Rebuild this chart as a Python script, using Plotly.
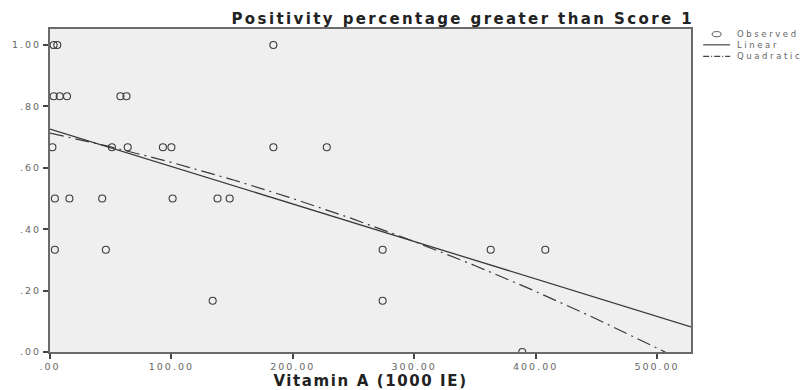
import numpy as np
import plotly.graph_objects as go

# Observed values: Vitamin A dose (1000 IE) vs positivity proportion
vitamin_a = [3, 6, 184,
             3, 8, 14, 58, 63,
             2, 51, 64, 93, 100, 184, 228,
             4, 16, 43, 101, 138, 148,
             4, 46, 274, 363, 408,
             134, 274,
             389]
positivity = [1.0, 1.0, 1.0,
              0.833, 0.833, 0.833, 0.833, 0.833,
              0.667, 0.667, 0.667, 0.667, 0.667, 0.667, 0.667,
              0.5, 0.5, 0.5, 0.5, 0.5, 0.5,
              0.333, 0.333, 0.333, 0.333, 0.333,
              0.167, 0.167,
              0.0]

# Curve-fit coefficients (constant, b1, b2)
linear_coef = [0.726, -0.00122]
quadratic_coef = [0.713, -0.000842, -1.117e-6]

x_ticks = [0, 100, 200, 300, 400, 500]
x_tick_text = [".00", "100.00", "200.00", "300.00", "400.00", "500.00"]
y_ticks = [0, 0.2, 0.4, 0.6, 0.8, 1.0]
y_tick_text = [".00", ".20", ".40", ".60", ".80", "1.00"]

x_max = 528
y_max = 1.052

xs = np.linspace(0, x_max, 200)
lin = linear_coef[0] + linear_coef[1] * xs
quad = quadratic_coef[0] + quadratic_coef[1] * xs + quadratic_coef[2] * xs ** 2


def spaced(text, px, bold=False):
    """Wrap text in a span with extra letter spacing (wide SPSS-style lettering)."""
    inner = f"<b>{text}</b>" if bold else text
    return f'<span style="letter-spacing:{px}px">{inner}</span>'


ink = "#3a3a3a"
fig = go.Figure()
fig.add_trace(go.Scatter(
    x=vitamin_a, y=positivity, mode="markers", name="Observed",
    marker=dict(symbol="circle-open", size=7, color=ink, line=dict(width=1.1)),
    showlegend=False))
fig.add_trace(go.Scatter(
    x=xs, y=lin, mode="lines", name="Linear",
    line=dict(color=ink, width=1.3), showlegend=False))
fig.add_trace(go.Scatter(
    x=xs, y=quad, mode="lines", name="Quadratic",
    line=dict(color=ink, width=1.2, dash="14px,5px,2px,5px"), showlegend=False))

font_name = "DejaVu Sans, Liberation Sans, Arial"
tick_font = dict(family=font_name, size=9.5, color="#666")
fig.update_xaxes(range=[0, x_max], tickvals=x_ticks,
                 ticktext=[spaced(t, 2) for t in x_tick_text],
                 showgrid=False, zeroline=False, showline=True, mirror=True,
                 linecolor="#6a6a6a", linewidth=2, ticks="outside", ticklen=5,
                 tickcolor="#444", tickwidth=1.5, tickfont=tick_font, automargin=False,
                 title=dict(text=spaced("Vitamin A (1000 IE)", 1.6, bold=True), standoff=8,
                            font=dict(family=font_name, size=15, color="#222")))
fig.update_yaxes(range=[0, y_max], tickvals=y_ticks,
                 ticktext=[spaced(t, 2) for t in y_tick_text],
                 showgrid=False, zeroline=False, showline=True, mirror=True,
                 linecolor="#6a6a6a", linewidth=2, ticks="outside", ticklen=5,
                 tickcolor="#444", tickwidth=1.5, tickfont=tick_font, automargin=False)

# Legend drawn beside the plot area
legend_font = dict(family=font_name, size=8.5, color="#666")
leg_x0, leg_x1, leg_tx = 1.019, 1.061, 1.068
rows = [("Observed", 0.983), ("Linear", 0.951), ("Quadratic", 0.915)]
for label, yy in rows:
    fig.add_annotation(xref="paper", yref="paper", x=leg_tx, y=yy, text=spaced(label, 2.6),
                       showarrow=False, xanchor="left", yanchor="middle", font=legend_font)
fig.add_shape(type="circle", xref="paper", yref="paper",
              x0=1.033, x1=1.047, y0=0.976, y1=0.992,
              line=dict(color="#555", width=1))
fig.add_shape(type="line", xref="paper", yref="paper", x0=leg_x0, x1=leg_x1,
              y0=rows[1][1], y1=rows[1][1], line=dict(color="#444", width=1.2))
fig.add_shape(type="line", xref="paper", yref="paper", x0=leg_x0, x1=leg_x1,
              y0=rows[2][1], y1=rows[2][1], line=dict(color="#444", width=1.2, dash="6px,2px,1px,2px"))

fig.update_layout(
    width=807, height=390,
    margin=dict(l=50, r=116, t=29, b=38, autoexpand=False),
    paper_bgcolor="white", plot_bgcolor="#efefef",
    title=dict(text=spaced("Positivity percentage greater than Score 1", 2.4, bold=True),
               x=0.860, xanchor="right", xref="container",
               y=0.952, yanchor="middle", yref="container",
               font=dict(family=font_name, size=15, color="#222")),
)

fig.write_html("out.html")
